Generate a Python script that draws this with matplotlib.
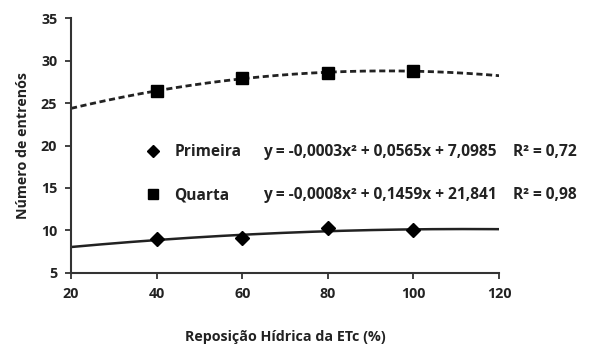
import numpy as np
import matplotlib.pyplot as plt
from matplotlib.lines import Line2D

plt.rcParams['font.family'] = ['Open Sans', 'DejaVu Sans']

# dados
reposicao = [40, 60, 80, 100]
primeira = [9.0, 9.1, 10.3, 10.0]
quarta = [26.4, 28.0, 28.5, 28.8]
eq_primeira = 'y = -0,0003x² + 0,0565x + 7,0985'
eq_quarta = 'y = -0,0008x² + 0,1459x + 21,841'
r2_primeira = 'R² = 0,72'
r2_quarta = 'R² = 0,98'

cor = '#222222'
fs = 10.3     # eixos
fs_leg = 11.2  # legenda / equacoes

fig = plt.figure(figsize=(5.92, 3.49), dpi=100)
ax = fig.add_axes([0.12, 0.218, 0.723, 0.73])

# linhas de tendencia (polinomial de 2a ordem)
xs = np.linspace(20, 120, 200)
p1 = np.polyfit(reposicao, primeira, 2)
p4 = np.polyfit(reposicao, quarta, 2)
ax.plot(xs, np.polyval(p1, xs), color=cor, lw=1.8)
ax.plot(xs, np.polyval(p4, xs), color=cor, lw=2, ls=(0, (2.2, 1.3)))

ax.plot(reposicao, primeira, 'D', color='black', ms=7, ls='none')
ax.plot(reposicao, quarta, 's', color='black', ms=9, ls='none')

ax.set_xlim(20, 120)
ax.set_ylim(5, 35)
ax.set_xticks([20, 40, 60, 80, 100, 120])
ax.set_yticks([5, 10, 15, 20, 25, 30, 35])
for s in ['top', 'right']:
    ax.spines[s].set_visible(False)
for s in ['left', 'bottom']:
    ax.spines[s].set_linewidth(1.5)
    ax.spines[s].set_color('#333333')
ax.tick_params(direction='out', length=4, width=1.3, color='#333333',
               labelsize=fs, labelcolor=cor, pad=6)
for lab in ax.get_xticklabels() + ax.get_yticklabels():
    lab.set_fontweight('bold')

ax.set_xlabel('Reposição Hídrica da ETc (%)', fontsize=fs, fontweight='bold',
              color=cor, labelpad=21)
ax.set_ylabel('Número de entrenós', fontsize=fs, fontweight='bold',
              color=cor, labelpad=8)

handles = [Line2D([], [], marker='D', color='black', ls='none', ms=6),
           Line2D([], [], marker='s', color='black', ls='none', ms=7)]
leg = ax.legend(handles, ['Primeira', 'Quarta'], loc='center left',
                bbox_to_anchor=(0.14, 0.39), frameon=False,
                prop={'size': fs_leg, 'weight': 'bold'}, handlelength=1.0,
                handletextpad=0.9, labelspacing=1.75)
for t in leg.get_texts():
    t.set_color(cor)

ax.text(0.449, 0.475, eq_primeira, transform=ax.transAxes, fontsize=fs_leg,
        fontweight='bold', color=cor, va='center')
ax.text(0.449, 0.306, eq_quarta, transform=ax.transAxes, fontsize=fs_leg,
        fontweight='bold', color=cor, va='center')
ax.text(1.033, 0.475, r2_primeira, transform=ax.transAxes, fontsize=fs_leg,
        fontweight='bold', color=cor, va='center', clip_on=False)
ax.text(1.033, 0.306, r2_quarta, transform=ax.transAxes, fontsize=fs_leg,
        fontweight='bold', color=cor, va='center', clip_on=False)

fig.savefig('out.png', dpi=100)
